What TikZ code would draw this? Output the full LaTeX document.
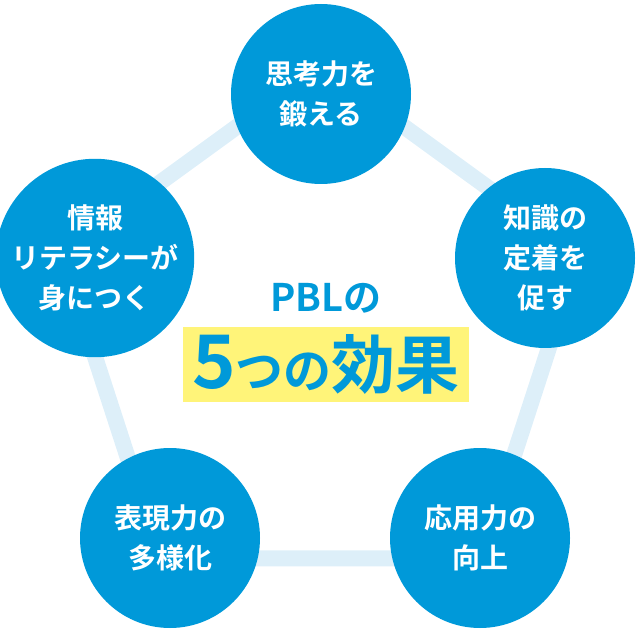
\documentclass[tikz,border=0pt]{standalone}
\usepackage{fontspec}
\setmainfont{Noto Sans CJK JP}[BoldFont={Noto Sans CJK JP Bold}]
\usetikzlibrary{positioning}
\definecolor{pblblue}{HTML}{0099D9}
\definecolor{pbllight}{HTML}{DDEFF9}
\definecolor{pblyellow}{HTML}{FFF479}

\begin{document}
\begin{tikzpicture}[x=1pt, y=1pt,
  effect/.style={circle, fill=pblblue, minimum size=180pt, inner sep=0pt, text=white, align=center, font=\bfseries\fontsize{28}{40}\selectfont},
  ring/.style={pbllight, line width=16pt}]
\useasboundingbox (0,0) rectangle (640,630);
% pentagon behind the circles
\coordinate (p1) at (320.5,564.0);
\coordinate (p2) at (579.4,375.9);
\coordinate (p3) at (480.5,71.6);
\coordinate (p4) at (160.5,71.6);
\coordinate (p5) at (61.6,375.9);
\draw[ring] (p1) -- (p2) -- (p3) -- (p4) -- (p5) -- cycle;
% the five effects
\node[effect] (think) at (321,536) {思考力を\\鍛える};
\node[effect] (know) at (545,372) {知識の\\定着を\\促す};
\node[effect] (apply) at (480,92) {応用力の\\向上};
\node[effect] (express) at (170,92) {表現力の\\多様化};
\node[effect] (info) at (95,372) {情報\\リテラシーが\\身につく};
% title in the middle
\node[fill=pblyellow, minimum width=286pt, minimum height=75pt, inner sep=0pt, text=pblblue, font=\bfseries] (five) at (326,265.5) {{\fontsize{74}{74}\selectfont 5}{\fontsize{48}{48}\selectfont つの}{\fontsize{64}{64}\selectfont 効果}};
\node[above=10pt of five, text=pblblue, font=\bfseries\fontsize{38}{38}\selectfont] (pbl) {PBLの};
\end{tikzpicture}
\end{document}
